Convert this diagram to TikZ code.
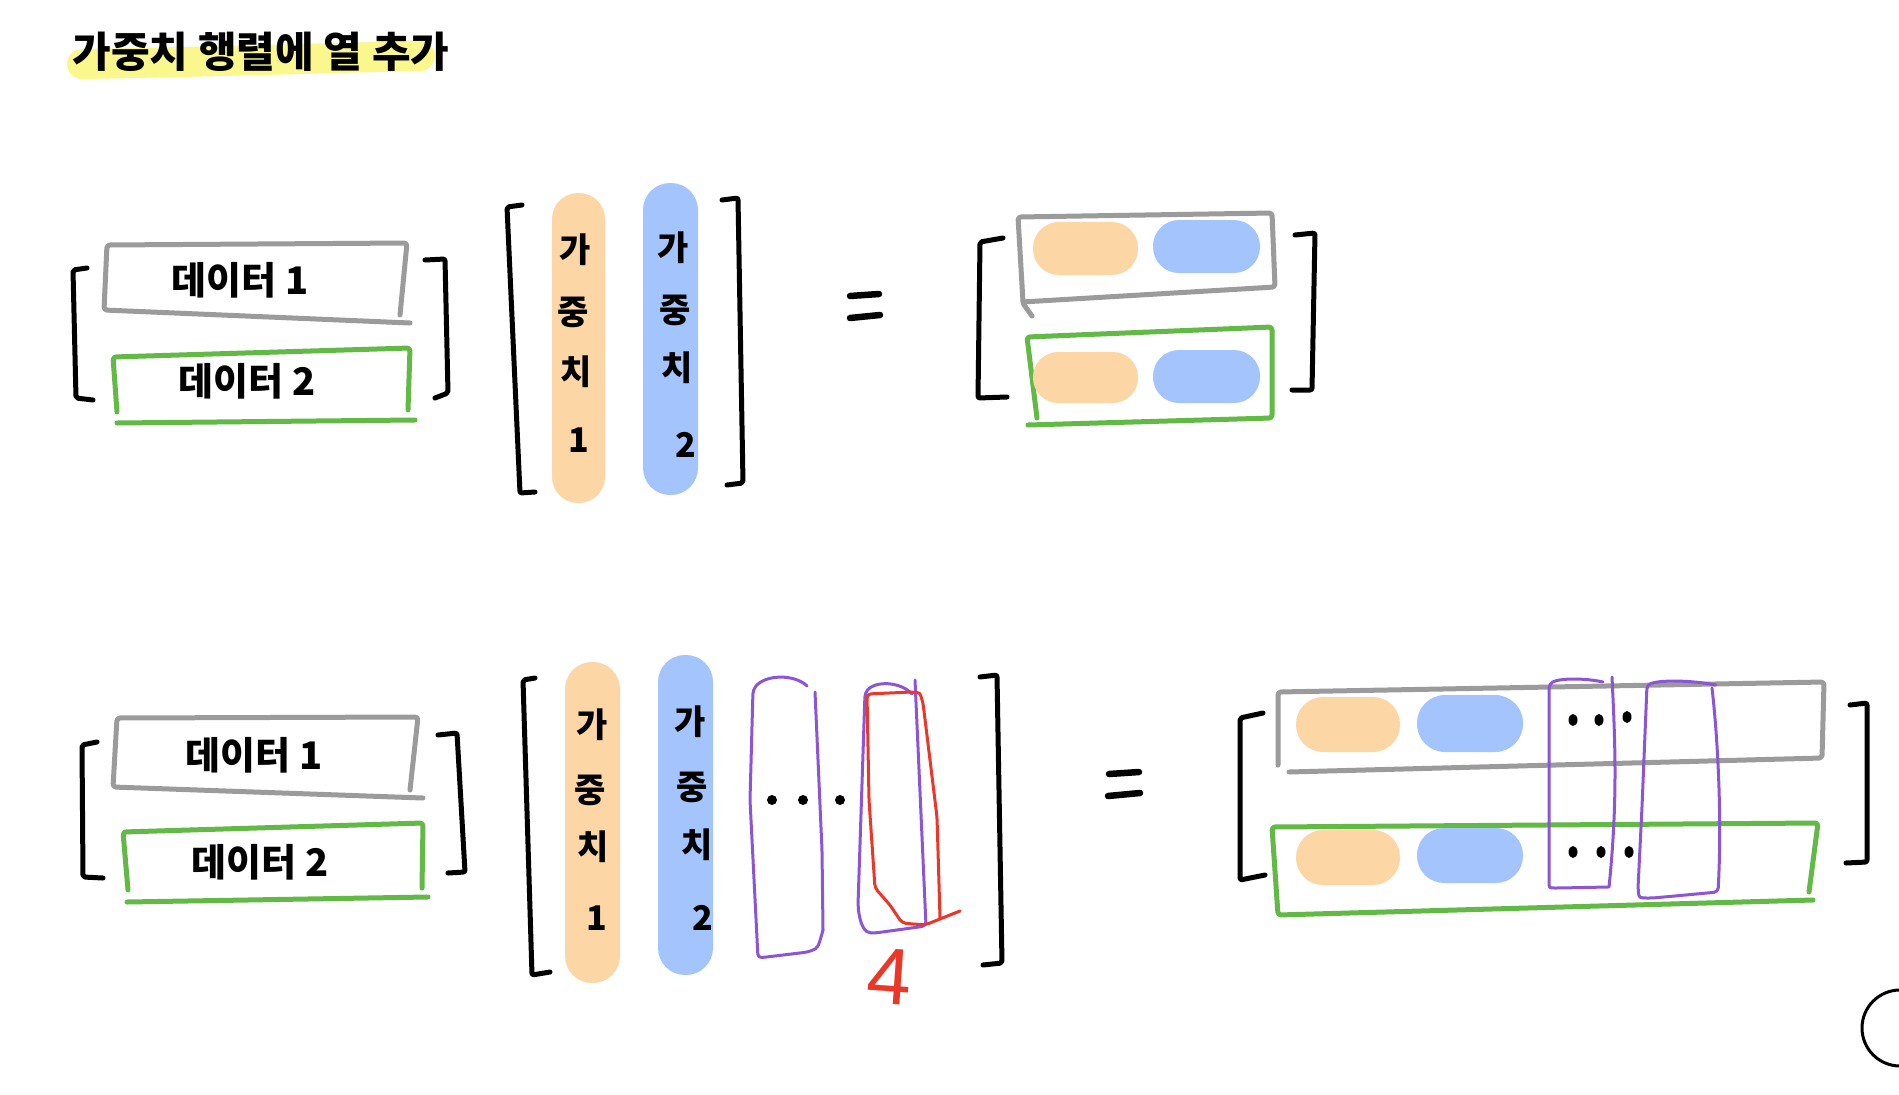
\documentclass[tikz,border=0pt]{standalone}
\usepackage{fontspec}
\setmainfont{Noto Sans CJK KR}
\newfontfamily\numfont{Liberation Sans}
\definecolor{grayc}{RGB}{155,155,155}
\definecolor{greenc}{RGB}{98,185,70}
\definecolor{orangec}{RGB}{253,214,166}
\definecolor{bluec}{RGB}{163,196,253}
\definecolor{purpc}{RGB}{140,85,215}
\definecolor{redc}{RGB}{235,55,40}
\definecolor{hlc}{RGB}{250,248,140}
\begin{document}
\begin{tikzpicture}[x=1pt,y=-1pt,
  blk/.style={line width=5pt,black,line cap=round,line join=round,rounded corners=2pt},
  eqline/.style={line width=6.5pt,black,line cap=round},
  gbox/.style={line width=5pt,grayc,line cap=round,line join=round,rounded corners=3pt},
  grbox/.style={line width=5pt,greenc,line cap=round,line join=round,rounded corners=3pt},
  purp/.style={line width=3pt,purpc,line cap=round,line join=round,rounded corners=4pt},
  redl/.style={line width=3pt,redc,line cap=round,line join=round,rounded corners=4pt},
  hand/.style={font=\fontsize{38}{38}\selectfont\bfseries,inner sep=0pt},
  ch/.style={font=\fontsize{34}{34}\selectfont\bfseries,inner sep=0pt},
  opill/.style={fill=orangec},
  bpill/.style={fill=bluec},
  dotc/.style={fill=black}
]
\useasboundingbox (0,0) rectangle (1899,1095);
\fill[white] (0,0) rectangle (1899,1095);
\clip (0,0) rectangle (1899,1095);

% ---- title ----
\draw[hlc,line width=30pt,line cap=round] (82,64) .. controls (200,62) and (330,58) .. (420,56);
\node[font=\fontsize{42}{42}\selectfont\bfseries,inner sep=0pt] (title) at (261,52) {가중치 행렬에 열 추가};

% ================= TOP ROW =================
\draw[blk] (87,268) -- (73,270) -- (76,398) -- (93,400);
\draw[blk] (425,260) -- (445,259) -- (448,393) -- (435,398);
\draw[gbox] (400,315) -- (407,243) -- (107,245) -- (104,310) -- (410,323);
\node[hand] (d1a) at (240,280) {데이터 1};
\draw[grbox] (408,410) -- (410,348) -- (113,357) -- (117,412);
\draw[grbox] (117,423) -- (415,420);
\node[hand] (d2a) at (247,381) {데이터 2};

\draw[blk] (522,205) -- (507,207) -- (520,493) -- (535,492);
\draw[blk] (722,200) -- (738,198) -- (743,483) -- (727,485);
\fill[opill,rounded corners=26pt] (552,193) rectangle (605,503);
\fill[bpill,rounded corners=27pt] (643,183) rectangle (698,495);
\node[ch] (w1a) at (575,250) {가};
\node[ch] (w1b) at (573,312) {중};
\node[ch] (w1c) at (576,372) {치};
\node[ch] (w1d) at (579,440) {1};
\node[ch] (w2a) at (673,248) {가};
\node[ch] (w2b) at (675,310) {중};
\node[ch] (w2c) at (677,368) {치};
\node[ch] (w2d) at (686,445) {2};

\draw[eqline] (850,296) -- (879,294);
\draw[eqline] (850,318) -- (880,315);

\draw[blk] (1003,238) -- (980,242) -- (978,398) -- (1007,397);
\draw[blk] (1295,235) -- (1315,233) -- (1312,390) -- (1292,390);
\draw[gbox] (1023,302) -- (1018,217) -- (1272,213) -- (1275,287) -- (1022,302) -- (1032,316);
\fill[opill,rounded corners=26pt] (1033,222) rectangle (1138,275);
\fill[bpill,rounded corners=26pt] (1153,220) rectangle (1260,273);
\draw[grbox] (1037,418) -- (1027,337) -- (1272,327) -- (1272,418) -- (1028,425);
\fill[opill,rounded corners=25pt] (1033,352) rectangle (1138,403);
\fill[bpill,rounded corners=26pt] (1153,350) rectangle (1260,403);

% ================= BOTTOM ROW =================
\draw[blk] (97,742) -- (82,745) -- (83,877) -- (103,878);
\draw[blk] (438,735) -- (457,733) -- (465,872) -- (448,873);
\draw[gbox] (410,790) -- (418,717) -- (117,718) -- (113,787) -- (423,798);
\node[hand] (d1b) at (254,755) {데이터 1};
\draw[grbox] (422,888) -- (423,823) -- (123,832) -- (128,890);
\draw[grbox] (127,902) -- (428,897);
\node[hand] (d2b) at (260,862) {데이터 2};

\draw[blk] (535,678) -- (523,680) -- (532,975) -- (550,972);
\draw[blk] (980,677) -- (997,675) -- (1002,963) -- (983,965);
\fill[opill,rounded corners=27pt] (565,662) rectangle (620,983);
\fill[bpill,rounded corners=27pt] (658,655) rectangle (713,975);
\node[ch] (w3a) at (592,725) {가};
\node[ch] (w3b) at (590,790) {중};
\node[ch] (w3c) at (593,847) {치};
\node[ch] (w3d) at (597,918) {1};
\node[ch] (w4a) at (690,722) {가};
\node[ch] (w4b) at (692,787) {중};
\node[ch] (w4c) at (697,845) {치};
\node[ch] (w4d) at (703,918) {2};
\draw[purp] (807,686) .. controls (795,674) and (765,674) .. (753,690) -- (750,800) -- (758,958) -- (808,952) .. controls (818,948) .. (823,930);
\draw[purp] (815,692) -- (822,850) -- (823,930);
\fill[dotc] (772,800) circle (5);
\fill[dotc] (803,800) circle (5);
\fill[dotc] (840,800) circle (5);
\draw[purp] (912,694) .. controls (900,681) and (875,681) .. (865,693) -- (858,905) .. controls (860,925) and (865,933) .. (875,933) -- (926,926) -- (915,680);
\draw[redl] (940,918) -- (937,817) -- (923,703) .. controls (920,693) .. (912,692) -- (867,694) -- (869,800) -- (875,888) -- (890,905) -- (902,923) -- (925,925) -- (960,911);
\node[font=\numfont\fontsize{80}{80}\selectfont,text=redc,inner sep=0pt,rotate=-4] (four) at (890,977) {4};

\draw[eqline] (1109,774) -- (1139,772);
\draw[eqline] (1108,796) -- (1140,793);

% result matrix (extended)
\draw[blk] (1263,713) -- (1240,718) -- (1240,880) -- (1265,875);
\draw[blk] (1850,705) -- (1867,703) -- (1867,862) -- (1846,863);
\draw[gbox] (1278,765) -- (1278,692) -- (1824,682) -- (1822,758) -- (1289,772);
\fill[opill,rounded corners=27pt] (1296,697) rectangle (1400,752);
\fill[bpill,rounded corners=28pt] (1417,695) rectangle (1523,752);
\draw[grbox] (1809,892) -- (1818,823) -- (1272,827) -- (1278,915) -- (1813,900);
\fill[opill,rounded corners=27pt] (1296,830) rectangle (1400,885);
\fill[bpill,rounded corners=27pt] (1417,828) rectangle (1523,883);
\fill[dotc] (1573,720) ellipse (4.5 and 6);
\fill[dotc] (1599,720) ellipse (4.5 and 6);
\fill[dotc] (1627,717) ellipse (4.5 and 6);
\fill[dotc] (1573,852) ellipse (4.5 and 6);
\fill[dotc] (1601,852) ellipse (4.5 and 6);
\fill[dotc] (1629,852) ellipse (4.5 and 6);
\draw[purp] (1603,682) .. controls (1585,678) and (1560,678) .. (1549,684) -- (1549,878) .. controls (1549,888) .. (1559,888) -- (1608,887);
\draw[purp] (1612,677) .. controls (1615,740) and (1618,800) .. (1609,887);
\draw[purp] (1716,685) .. controls (1690,680) and (1660,680) .. (1647,685) -- (1642,807) -- (1638,888) .. controls (1639,898) .. (1653,898) -- (1718,892) .. controls (1722,820) and (1718,740) .. (1712,688);

\draw[line width=3pt,black] (1900,1028) circle (38);
\end{tikzpicture}
\end{document}
